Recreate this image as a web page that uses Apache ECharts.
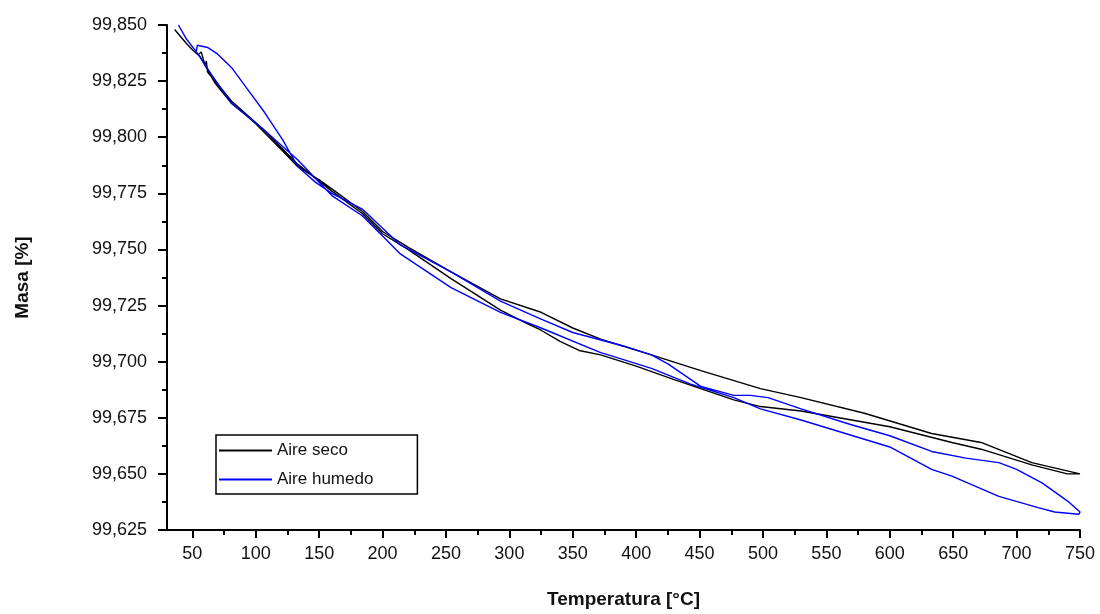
<!DOCTYPE html>
<html>
<head>
<meta charset="utf-8">
<script src="https://cdn.jsdelivr.net/npm/echarts@6/dist/echarts.min.js"></script>
<style>
  html, body { margin: 0; padding: 0; background: #fff; }
  #chart { width: 1100px; height: 614px; }
</style>
</head>
<body>
<div id="chart"></div>
<script>
// Aire seco: heating run then cooling back
const secoTemp = [36, 45, 50, 56, 62, 68, 81, 92, 100, 107, 121, 133, 150, 160, 184, 200, 220, 254, 293, 325, 350, 372, 412, 451, 498, 530, 580, 633, 672, 712, 750,
  740, 712, 672, 649, 600, 530, 498, 477, 430, 400, 372, 355, 340, 325, 314, 293, 254, 220, 200, 184, 160, 133, 107, 81, 68, 62, 61, 60, 57, 55];
const secoMasa = [99.848, 99.842, 99.839, 99.836, 99.830, 99.824, 99.815, 99.810, 99.806, 99.802, 99.794, 99.787, 99.781, 99.777, 99.767, 99.758, 99.751, 99.740, 99.728, 99.722, 99.715, 99.710, 99.703, 99.696, 99.688, 99.684, 99.677, 99.668, 99.664, 99.655, 99.650,
  99.650, 99.654, 99.661, 99.664, 99.671, 99.678, 99.680, 99.683, 99.692, 99.698, 99.703, 99.705, 99.709, 99.714, 99.717, 99.723, 99.737, 99.750, 99.757, 99.766, 99.776, 99.788, 99.803, 99.816, 99.825, 99.829, 99.834, 99.832, 99.838, 99.837];

// Aire humedo: lower run out to 750, upper run back
const humedoTemp = [39, 45, 54.5, 65, 81, 107, 133, 160, 184, 200, 214, 254, 293, 325, 372, 378, 412, 443, 477, 498, 530, 600, 633, 649, 686, 717, 730, 749,
  750, 740, 720, 700, 686, 660, 633, 600, 569, 530, 504, 490, 477, 451, 425, 412, 390, 350, 325, 293, 254, 214, 184, 160, 147, 133, 121, 107, 94, 81, 70, 62, 54, 53];
const humedoMasa = [99.850, 99.844, 99.837, 99.828, 99.815, 99.803, 99.790, 99.774, 99.765, 99.756, 99.748, 99.733, 99.722, 99.715, 99.704, 99.703, 99.697, 99.690, 99.684, 99.679, 99.674, 99.662, 99.652, 99.649, 99.640, 99.635, 99.633, 99.632,
  99.633, 99.638, 99.646, 99.652, 99.655, 99.657, 99.660, 99.667, 99.672, 99.679, 99.684, 99.685, 99.685, 99.689, 99.699, 99.703, 99.707, 99.713, 99.719, 99.727, 99.740, 99.752, 99.768, 99.775, 99.780, 99.787, 99.799, 99.811, 99.821, 99.831, 99.837, 99.840, 99.841, 99.838];

const xTicks = [50, 100, 150, 200, 250, 300, 350, 400, 450, 500, 550, 600, 650, 700, 750];
const xMinorTicks = [75, 125, 175, 225, 275, 325, 375, 425, 475, 525, 575, 625, 675, 725];

const pairs = (xs, ys) => xs.map((x, i) => [x, ys[i]]);

const chart = echarts.init(document.getElementById('chart'));
const font = 'Liberation Sans, Arial, sans-serif';

chart.setOption({
  animation: false,
  backgroundColor: '#fff',
  grid: { left: 167, right: 20, top: 25, bottom: 84 },
  legend: {
    left: 216,
    top: 435,
    orient: 'vertical',
    borderColor: '#000',
    borderWidth: 1.5,
    padding: [6, 44, 5, 3],
    itemGap: 10,
    itemWidth: 53,
    itemHeight: 2,
    icon: 'rect',
    textStyle: { fontFamily: font, fontSize: 17, color: '#111', lineHeight: 19 },
    data: ['Aire seco', 'Aire humedo']
  },
  xAxis: [{
    type: 'value',
    min: 30,
    max: 750,
    name: 'Temperatura [°C]',
    nameLocation: 'middle',
    nameGap: 60,
    nameTextStyle: { fontFamily: font, fontSize: 19, fontWeight: 'bold', color: '#111' },
    splitLine: { show: false },
    axisLine: { lineStyle: { color: '#000', width: 2 } },
    axisTick: { customValues: xTicks, length: 8, lineStyle: { color: '#000', width: 2 } },
    axisLabel: { customValues: xTicks, margin: 15, fontFamily: font, fontSize: 18, color: '#111' }
  }, {
    type: 'value',
    position: 'bottom',
    min: 30,
    max: 750,
    splitLine: { show: false },
    axisLine: { show: false },
    axisTick: { customValues: xMinorTicks, length: 5, lineStyle: { color: '#000', width: 2 } },
    axisLabel: { show: false }
  }],
  yAxis: {
    type: 'value',
    min: 99.625,
    max: 99.850,
    interval: 0.025,
    name: 'Masa [%]',
    nameLocation: 'middle',
    nameGap: 135,
    nameTextStyle: { fontFamily: font, fontSize: 19, fontWeight: 'bold', color: '#111' },
    splitLine: { show: false },
    axisLine: { show: true, lineStyle: { color: '#000', width: 2 } },
    axisTick: { show: true, length: 9, lineStyle: { color: '#000', width: 2 } },
    minorTick: { show: true, splitNumber: 2, length: 5, lineStyle: { color: '#000', width: 2 } },
    axisLabel: {
      margin: 20,
      fontFamily: font,
      fontSize: 18,
      color: '#111',
      formatter: v => v.toFixed(3).replace('.', ',')
    }
  },
  series: [{
    name: 'Aire seco',
    type: 'line',
    symbol: 'none',
    color: '#000',
    lineStyle: { width: 1.4 },
    data: pairs(secoTemp, secoMasa)
  }, {
    name: 'Aire humedo',
    type: 'line',
    symbol: 'none',
    color: '#0000ff',
    lineStyle: { width: 1.4 },
    data: pairs(humedoTemp, humedoMasa)
  }]
});
</script>
</body>
</html>
